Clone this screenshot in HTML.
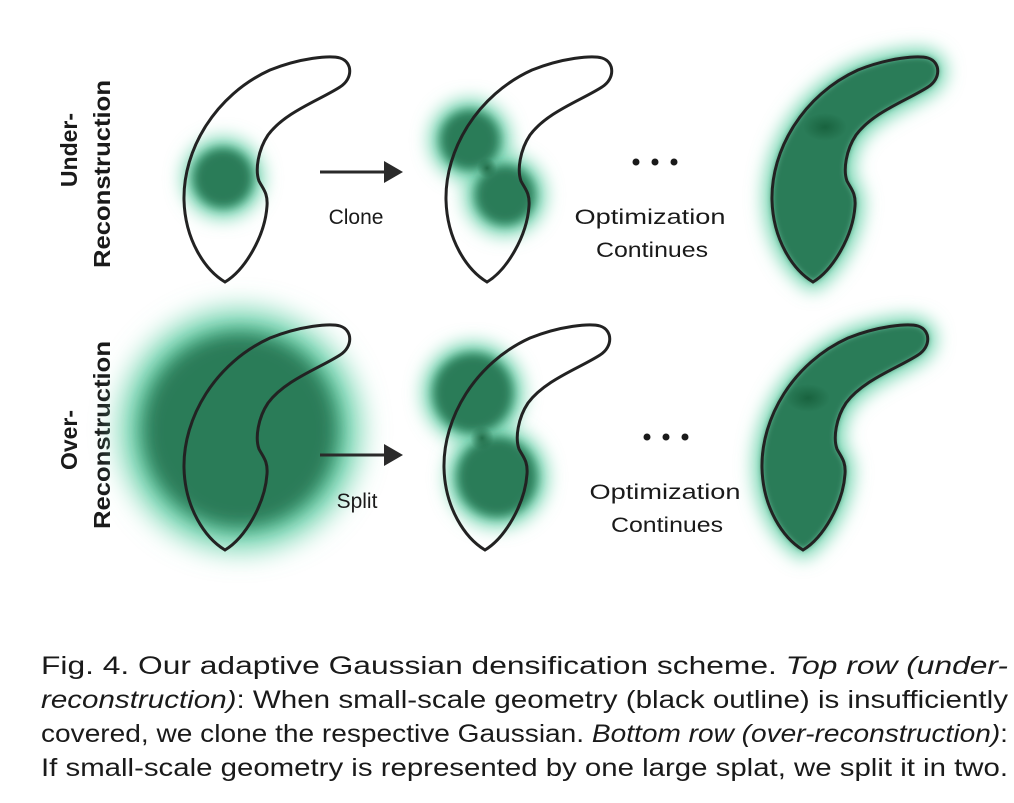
<!DOCTYPE html>
<html><head><meta charset="utf-8"><style>
html,body{margin:0;padding:0;background:#fff;}
svg{display:block;}
text{font-family:"Liberation Sans",sans-serif;fill:#1a1a1a;}
</style></head><body>
<svg width="1014" height="803" viewBox="0 0 1014 803">
<defs>
<filter id="b2" x="-50%" y="-50%" width="200%" height="200%"><feGaussianBlur stdDeviation="3"/></filter>
<filter id="b4" x="-50%" y="-50%" width="200%" height="200%"><feGaussianBlur stdDeviation="5"/></filter>
<filter id="b8" x="-50%" y="-50%" width="200%" height="200%"><feGaussianBlur stdDeviation="9"/></filter>
<filter id="b14" x="-50%" y="-50%" width="200%" height="200%"><feGaussianBlur stdDeviation="14"/></filter>
<radialGradient id="spot"><stop offset="0" stop-color="#145c38" stop-opacity="0.8"/><stop offset="1" stop-color="#145c38" stop-opacity="0"/></radialGradient>
<path id="shape" d="M225 282 C205 270 185 240 184 200 C183 150 215 95 270 70 C300 58 330 55 340 58 C353 62 353 79 340 87 C320 100 285 112 268 135 C258 150 255 170 259 181 C263 189 268 193 267 206 C265 236 245 270 225 282 Z"/>
</defs>

<text transform="translate(77,150) rotate(-90)" text-anchor="middle" font-size="23" font-weight="bold">Under-</text>
<text transform="translate(110,174) rotate(-90)" text-anchor="middle" font-size="23" font-weight="bold" textLength="188" lengthAdjust="spacingAndGlyphs">Reconstruction</text>
<text transform="translate(77,440) rotate(-90)" text-anchor="middle" font-size="23" font-weight="bold">Over-</text>
<text transform="translate(110,435) rotate(-90)" text-anchor="middle" font-size="23" font-weight="bold" textLength="188" lengthAdjust="spacingAndGlyphs">Reconstruction</text>

<g>
<circle cx="223" cy="178" r="40" fill="#6fd4ae" filter="url(#b8)"/>
<circle cx="223" cy="178" r="30" fill="#2b7b58" filter="url(#b4)"/>
<use href="#shape" fill="none" stroke="#222" stroke-width="3"/>
</g>
<g transform="translate(262,0)">
<circle cx="208" cy="140" r="40" fill="#6fd4ae" filter="url(#b8)"/>
<circle cx="243" cy="195" r="40" fill="#6fd4ae" filter="url(#b8)"/>
<circle cx="208" cy="140" r="30" fill="#2b7b58" filter="url(#b4)"/>
<circle cx="243" cy="195" r="30" fill="#2b7b58" filter="url(#b4)"/>
<circle cx="225" cy="168" r="10" fill="url(#spot)"/>
<use href="#shape" fill="none" stroke="#222" stroke-width="3"/>
</g>
<g transform="translate(588,0)">
<use href="#shape" fill="#6fd4ae" stroke="#6fd4ae" stroke-width="16" filter="url(#b8)"/>
<use href="#shape" fill="#2b7b58" filter="url(#b2)"/>
<ellipse cx="237" cy="127" rx="22" ry="14" fill="url(#spot)"/>
<use href="#shape" fill="none" stroke="#222" stroke-width="3"/>
</g>

<g transform="translate(0,268)">
<circle cx="240" cy="162" r="120" fill="#6fd4ae" filter="url(#b14)"/>
<circle cx="240" cy="162" r="98" fill="#2b7b58" filter="url(#b8)"/>
<use href="#shape" fill="none" stroke="#222" stroke-width="3"/>
</g>
<g transform="translate(260,268)">
<circle cx="213" cy="125" r="50" fill="#6fd4ae" filter="url(#b8)"/>
<circle cx="237" cy="209" r="50" fill="#6fd4ae" filter="url(#b8)"/>
<circle cx="213" cy="125" r="40" fill="#2b7b58" filter="url(#b4)"/>
<circle cx="237" cy="209" r="40" fill="#2b7b58" filter="url(#b4)"/>
<circle cx="222" cy="170" r="12" fill="url(#spot)"/>
<use href="#shape" fill="none" stroke="#222" stroke-width="3"/>
</g>
<g transform="translate(578,268)">
<use href="#shape" fill="#6fd4ae" stroke="#6fd4ae" stroke-width="16" filter="url(#b8)"/>
<use href="#shape" fill="#2b7b58" filter="url(#b2)"/>
<ellipse cx="230" cy="130" rx="22" ry="14" fill="url(#spot)"/>
<use href="#shape" fill="none" stroke="#222" stroke-width="3"/>
</g>

<g>
<line x1="320" y1="172" x2="388" y2="172" stroke="#2a2a2a" stroke-width="3"/>
<polygon points="384,161 403,172 384,183" fill="#2a2a2a"/>
</g>
<g>
<line x1="320" y1="455" x2="388" y2="455" stroke="#2a2a2a" stroke-width="3"/>
<polygon points="384,444 403,455 384,466" fill="#2a2a2a"/>
</g>
<text x="356" y="224" text-anchor="middle" font-size="21">Clone</text>
<text x="357" y="508" text-anchor="middle" font-size="21">Split</text>

<g fill="#1a1a1a">
<circle cx="636" cy="162" r="3.5"/><circle cx="655" cy="162" r="3.5"/><circle cx="674" cy="162" r="3.5"/>
</g>
<g fill="#1a1a1a">
<circle cx="647" cy="437" r="3.5"/><circle cx="666" cy="437" r="3.5"/><circle cx="685" cy="437" r="3.5"/>
</g>
<text x="650" y="224" text-anchor="middle" font-size="21" textLength="151" lengthAdjust="spacingAndGlyphs">Optimization</text>
<text x="652" y="257" text-anchor="middle" font-size="21" textLength="112" lengthAdjust="spacingAndGlyphs">Continues</text>
<text x="665" y="499" text-anchor="middle" font-size="21" textLength="151" lengthAdjust="spacingAndGlyphs">Optimization</text>
<text x="667" y="532" text-anchor="middle" font-size="21" textLength="112" lengthAdjust="spacingAndGlyphs">Continues</text>

<g font-size="25">
<text x="41" y="674" textLength="967" lengthAdjust="spacingAndGlyphs">Fig. 4.   Our adaptive Gaussian densification scheme. <tspan font-style="italic">Top row (under-</tspan></text>
<text x="41" y="708" textLength="967" lengthAdjust="spacingAndGlyphs"><tspan font-style="italic">reconstruction)</tspan>: When small-scale geometry (black outline) is insufficiently</text>
<text x="41" y="742" textLength="967" lengthAdjust="spacingAndGlyphs">covered, we clone the respective Gaussian. <tspan font-style="italic">Bottom row (over-reconstruction)</tspan>:</text>
<text x="41" y="776" textLength="967" lengthAdjust="spacingAndGlyphs">If small-scale geometry is represented by one large splat, we split it in two.</text>
</g>
</svg>
</body></html>
